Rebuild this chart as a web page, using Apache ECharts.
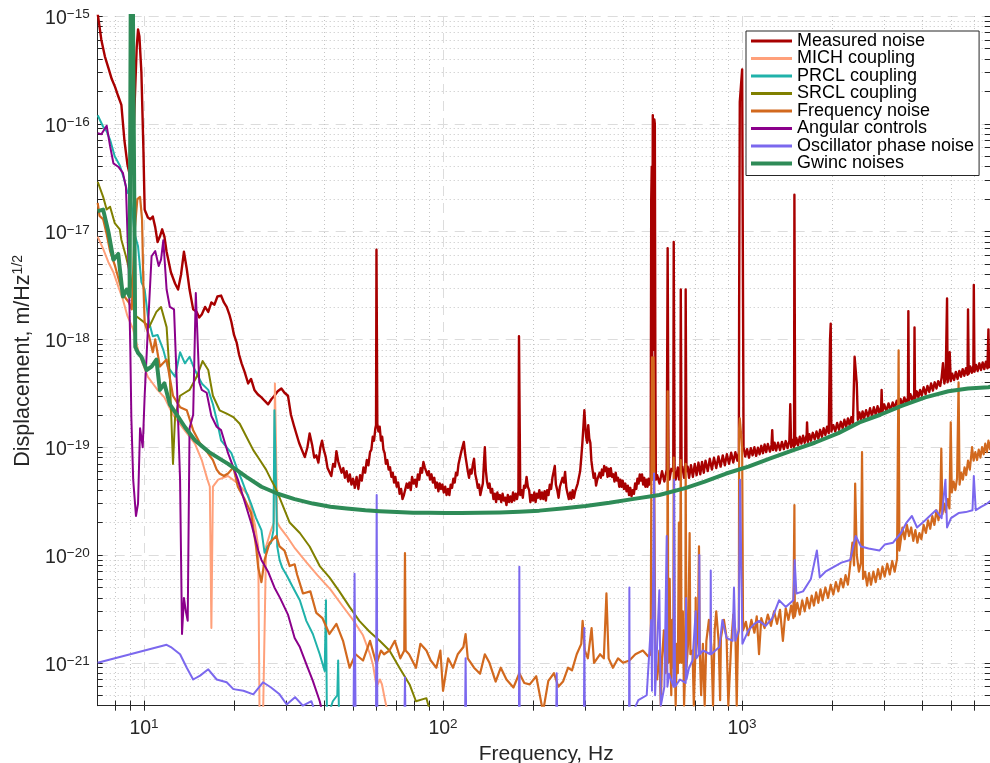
<!DOCTYPE html>
<html>
<head>
<meta charset="utf-8">
<title>Noise budget</title>
<script src="https://cdn.jsdelivr.net/npm/echarts@6/dist/echarts.min.js"></script>
<style>
  html, body { margin: 0; padding: 0; background: #fff; }
  #chart { width: 990px; height: 763px; }
</style>
</head>
<body>
<div id="chart"></div>
<script>
// axis range and tick labels
const xRange = [7, 7000];
const yRange = [4e-22, 1e-15];
const xMajor = [10, 100, 1000];
const yMajor = [1e-21, 1e-20, 1e-19, 1e-18, 1e-17, 1e-16, 1e-15];

// [frequency Hz, displacement m/Hz^1/2]
const measured = [[7.0,1.05e-15],[7.2,6e-16],[7.4,4.2e-16],[7.6,3.3e-16],[7.8,2.6e-16],[8.0,2.2e-16],[8.2,1.8e-16],[8.4,1.5e-16],[8.6,7e-17],[8.8,4.2e-17],[9.0,3.2e-17],[9.15,4e-17],[9.3,1.5e-16],[9.45,5e-16],[9.55,7.5e-16],[9.65,6.5e-16],[9.8,3e-16],[9.95,6e-17],[10.05,1.6e-17],[10.3,1.35e-17],[10.5,1.3e-17],[10.7,1.38e-17],[10.9,1.1e-17],[11.1,8e-18],[11.3,9e-18],[11.5,1.05e-17],[11.7,9e-18],[11.9,6.5e-18],[12.3,4.2e-18],[12.7,3.3e-18],[13.0,2.9e-18],[13.3,4e-18],[13.6,6.5e-18],[13.9,4.5e-18],[14.2,2.9e-18],[14.6,1.9e-18],[15.0,1.8e-18],[15.3,1.6e-18],[15.6,1.7e-18],[16.0,2e-18],[16.4,1.8e-18],[16.8,2.2e-18],[17.2,2.1e-18],[17.6,2.5e-18],[18.1,2.55e-18],[18.5,2.2e-18],[18.9,2.0e-18],[19.3,1.7e-18],[19.6,1.45e-18],[20.0,1.1e-18],[20.4,9.4e-19],[20.8,7.2e-19],[21.2,6e-19],[21.7,5e-19],[22.3,3.9e-19],[22.8,4.3e-19],[23.4,3.4e-19],[24.0,3.1e-19],[24.7,2.9e-19],[25.3,2.7e-19],[26.0,2.5e-19],[26.7,2.8e-19],[27.3,3.0e-19],[28.0,3.3e-19],[28.8,3.5e-19],[29.5,3.2e-19],[30.3,3.0e-19],[31.0,2.0e-19],[31.7,1.6e-19],[32.3,1.34e-19],[33.0,1.1e-19],[33.7,9.5e-20],[34.5,8.1e-20],[35.2,1.0e-19],[35.8,1.34e-19],[36.5,1.05e-19],[37.1,8e-20],[37.7,8.4e-20],[38.3,7.2e-20],[38.9,1.0e-19],[39.4,1.15e-19],[39.9,9.5e-20],[40.5,8.2e-20],[41.1,6.4e-20],[41.7,6.3e-20],[42.3,5.4e-20],[42.9,7e-20],[43.5,6.6e-20],[44.0,9.2e-20],[44.6,7.4e-20],[45.2,7.1e-20],[45.8,5.8e-20],[46.4,6.4e-20],[47.0,5.2e-20],[47.6,6e-20],[48.2,4.8e-20],[48.8,5.6e-20],[49.4,4.5e-20],[50.0,5.1e-20],[50.7,4.2e-20],[51.4,5.3e-20],[52.1,4.1e-20],[52.8,5.5e-20],[53.5,4.9e-20],[54.2,6.5e-20],[54.9,5.8e-20],[55.6,7.6e-20],[56.3,6.8e-20],[57.0,9e-20],[57.6,9.5e-20],[58.2,1.25e-19],[58.8,1.15e-19],[59.4,1.5e-19],[59.7,1.6e-19],[59.9,6.8e-18],[60.1,6.8e-18],[60.3,1.65e-19],[60.8,1.4e-19],[61.4,1.55e-19],[62.0,1.15e-19],[62.6,1.25e-19],[63.2,9.5e-20],[63.8,8.8e-20],[64.4,7e-20],[65.1,7.6e-20],[65.8,6.2e-20],[66.5,6.5e-20],[67.2,5.3e-20],[67.9,5.8e-20],[68.6,4.7e-20],[69.3,5.3e-20],[70.0,4.3e-20],[70.8,4.7e-20],[71.6,3.7e-20],[72.4,4.1e-20],[73.2,3.3e-20],[74.0,3.6e-20],[74.8,3.6e-20],[75.6,4.6e-20],[76.4,4.2e-20],[77.2,4.7e-20],[78.0,4.0e-20],[78.8,5.3e-20],[79.7,4.6e-20],[80.6,5.0e-20],[81.5,4.3e-20],[82.4,5.6e-20],[83.3,5.0e-20],[84.2,6.4e-20],[85.1,5.8e-20],[86.0,7.3e-20],[86.9,6.5e-20],[87.8,6.6e-20],[88.7,5.5e-20],[89.6,6e-20],[90.5,5e-20],[91.5,5.6e-20],[92.5,4.7e-20],[93.5,5.2e-20],[94.5,4.2e-20],[95.5,4.7e-20],[96.5,3.9e-20],[97.5,4.6e-20],[98.5,4.1e-20],[99.5,4.5e-20],[100.6,3.8e-20],[101.7,4.3e-20],[102.8,3.6e-20],[103.9,4.1e-20],[105,3.6e-20],[106.1,4.5e-20],[107.2,4.2e-20],[108.3,5.1e-20],[109.4,4.7e-20],[110.5,5.8e-20],[111.6,5.5e-20],[112.7,7e-20],[113.8,6.8e-20],[115,9e-20],[116.2,9.2e-20],[117.4,1.12e-19],[118.6,8.6e-20],[119.8,7.2e-20],[121,6e-20],[122.2,5.2e-20],[123.4,6.2e-20],[124.6,5.7e-20],[125.8,6.9e-20],[127,7.8e-20],[128.2,5.6e-20],[129.4,5e-20],[130.7,4.2e-20],[132,4.5e-20],[133.3,3.6e-20],[134.6,4.1e-20],[135.9,4.6e-20],[137,7e-20],[138,1.0e-19],[139,6.2e-20],[140.3,4.8e-20],[141.7,4.2e-20],[143.1,4.6e-20],[144.5,3.8e-20],[146,4.1e-20],[147.5,3.3e-20],[149,3.7e-20],[150.5,3.1e-20],[152,3.8e-20],[153.5,3.3e-20],[155,3.6e-20],[156.6,3.1e-20],[158.2,3.7e-20],[159.8,3.2e-20],[161.4,3.4e-20],[163,2.9e-20],[164.7,3.6e-20],[166.4,3.1e-20],[168.1,3.5e-20],[169.8,3.1e-20],[171.5,3.8e-20],[173.2,3.2e-20],[175,3.7e-20],[176.8,3.3e-20],[178.7,3.9e-20],[179.5,1.07e-18],[180.5,1.07e-18],[181.3,3.6e-20],[183.1,4e-20],[184.9,3.4e-20],[186.7,4.4e-20],[188.5,4.2e-20],[190.3,5.3e-20],[192.2,4.3e-20],[194.1,4e-20],[196,3.1e-20],[198,3.6e-20],[200,3.2e-20],[202,3.8e-20],[204,3.1e-20],[206,3.7e-20],[208,3.4e-20],[210,4e-20],[212,3.3e-20],[214.2,3.8e-20],[216.4,3.3e-20],[218.6,3.9e-20],[220.8,3.2e-20],[223,4e-20],[225.3,3.6e-20],[227.6,4.5e-20],[229.9,4.1e-20],[232.2,5.2e-20],[234.5,5e-20],[236.5,6.7e-20],[238.5,4.5e-20],[241,4e-20],[243.5,3.4e-20],[246,4.3e-20],[248.5,4.2e-20],[251,5.2e-20],[253.5,4.7e-20],[256,5.9e-20],[258.5,4.2e-20],[261,3.7e-20],[263.6,3.3e-20],[266.2,3.8e-20],[268.8,3.3e-20],[271.4,4e-20],[274,3.4e-20],[276.7,3.9e-20],[279.4,3.8e-20],[282.1,4.6e-20],[284.8,4.6e-20],[287.5,6e-20],[290,8e-20],[292.5,1.1e-19],[295,1.6e-19],[297,2.2e-19],[299,1.6e-19],[301,1.25e-19],[303.5,1.1e-19],[306,1.6e-19],[308.5,1.2e-19],[311,1.1e-19],[313.5,7.5e-20],[316,6.3e-20],[319,5.2e-20],[322,5.7e-20],[325,4.4e-20],[328,5e-20],[331,4.8e-20],[334,5.8e-20],[337,5.2e-20],[340,6.2e-20],[343,5.5e-20],[346,6.7e-20],[349,6e-20],[352,6.5e-20],[355,5.3e-20],[358,6.3e-20],[361,5.4e-20],[364,6.4e-20],[367.5,5.3e-20],[371,5.6e-20],[374.5,4.8e-20],[378,5.8e-20],[381.5,4.9e-20],[385,5.2e-20],[388.5,4.3e-20],[392,5e-20],[395.5,4.3e-20],[399,4.9e-20],[403,4.1e-20],[407,4.6e-20],[411,3.9e-20],[415,4.4e-20],[419,3.6e-20],[423,4.2e-20],[427,3.5e-20],[431,4e-20],[435,3.7e-20],[439,4.6e-20],[443,4.1e-20],[447,5.1e-20],[451,4.6e-20],[455,5.6e-20],[459,4.9e-20],[463,5.6e-20],[467,4.5e-20],[471,5.2e-20],[475,4.3e-20],[479,5e-20],[483,4.3e-20],[487,5.1e-20],[491,4.5e-20],[495,5.2e-20],[497,2e-17],[499,4e-17],[501,6e-19],[503,1.2e-16],[505,1.2e-16],[507,8e-19],[509,1.1e-16],[511,1.0e-16],[513,6e-19],[515,5e-20],[520,5.5e-20],[530,4.6e-20],[540,6e-20],[550,4.8e-20],[560,6.2e-20],[562,6e-20],[564,7e-18],[566,7e-18],[568,6e-20],[572,5e-20],[580,6.3e-20],[589,6e-20],[591,8e-18],[593,8e-18],[595,6e-20],[600,5e-20],[610,6.5e-20],[616,5e-20],[622,6e-20],[624,2.9e-18],[626,2.9e-18],[628,6e-20],[632,6.6e-20],[640,5.2e-20],[646,6e-20],[648,2.9e-18],[650,2.9e-18],[652,6e-20],[658,6.6e-20],[665,5.2e-20],[675,6.8e-20],[685,5.3e-20],[695,7e-20],[705,5.5e-20],[715,7.2e-20],[725,5.6e-20],[735,7.3e-20],[745,5.8e-20],[755,7.5e-20],[768,6e-20],[780,7.8e-20],[793,6.2e-20],[806,8e-20],[820,6.4e-20],[834,8.2e-20],[848,6.6e-20],[862,8.4e-20],[876,6.8e-20],[890,8.6e-20],[905,7e-20],[920,8.9e-20],[935,7.2e-20],[950,9e-20],[965,7.5e-20],[976,9e-20],[978,1.8e-18],[981,1.8e-18],[983,1.6e-16],[1001,3.2e-16],[1004,3.2e-16],[1008,2e-18],[1012,1e-19],[1025,8.2e-20],[1040,9.6e-20],[1055,8e-20],[1070,9.8e-20],[1085,8.4e-20],[1100,1e-19],[1115,8.3e-20],[1130,9.9e-20],[1145,8.6e-20],[1160,1.03e-19],[1175,8.8e-20],[1190,1.06e-19],[1205,9e-20],[1220,1.07e-19],[1240,9.1e-20],[1255,1.05e-19],[1262,1.44e-19],[1270,9.4e-20],[1285,1.1e-19],[1300,9.3e-20],[1320,1.1e-19],[1340,9.4e-20],[1360,1.12e-19],[1380,9.6e-20],[1400,1.14e-19],[1420,9.8e-20],[1440,1.15e-19],[1450,2.5e-19],[1460,1e-19],[1475,1.17e-19],[1493,1.0e-19],[1497,2.2e-17],[1502,2.2e-17],[1506,1.05e-19],[1520,1.22e-19],[1540,1.04e-19],[1560,1.25e-19],[1580,1.08e-19],[1600,1.28e-19],[1620,1.1e-19],[1645,1.3e-19],[1650,1.7e-19],[1660,1.12e-19],[1680,1.32e-19],[1700,1.15e-19],[1725,1.36e-19],[1750,1.18e-19],[1775,1.4e-19],[1800,1.2e-19],[1825,1.45e-19],[1850,1.25e-19],[1875,1.5e-19],[1900,1.3e-19],[1925,1.55e-19],[1950,1.35e-19],[1970,1e-18],[1980,1.4e-18],[1990,1.4e-19],[2020,1.6e-19],[2050,1.4e-19],[2080,1.68e-19],[2110,1.45e-19],[2140,1.72e-19],[2170,1.5e-19],[2200,1.8e-19],[2230,1.55e-19],[2260,1.85e-19],[2290,1.6e-19],[2320,1.9e-19],[2350,1.65e-19],[2380,6.9e-19],[2395,6.9e-19],[2420,3.9e-19],[2440,1.8e-19],[2470,2.1e-19],[2500,1.8e-19],[2530,2.15e-19],[2560,1.85e-19],[2600,2.2e-19],[2640,1.9e-19],[2680,2.3e-19],[2720,1.95e-19],[2760,2.35e-19],[2800,2e-19],[2840,2.4e-19],[2880,2.05e-19],[2920,2.4e-19],[2930,3.4e-19],[2945,2.1e-19],[2990,2.5e-19],[3040,2.15e-19],[3090,2.55e-19],[3140,2.2e-19],[3190,2.6e-19],[3240,2.3e-19],[3290,2.7e-19],[3340,2.35e-19],[3390,2.8e-19],[3440,2.45e-19],[3490,2.9e-19],[3540,2.55e-19],[3590,2.9e-19],[3600,1.83e-18],[3615,2.7e-19],[3660,3.1e-19],[3710,2.7e-19],[3765,3.1e-19],[3775,1.29e-18],[3790,2.8e-19],[3840,3.3e-19],[3890,2.9e-19],[3940,3.4e-19],[3990,3e-19],[4050,3.6e-19],[4110,3.1e-19],[4170,3.7e-19],[4230,3.25e-19],[4290,3.9e-19],[4350,3.35e-19],[4410,4e-19],[4470,3.5e-19],[4530,4.1e-19],[4600,3.7e-19],[4650,4.4e-19],[4700,6e-19],[4750,3.9e-19],[4800,4.5e-19],[4850,2.4e-18],[4870,4e-19],[4920,4.7e-19],[4950,7.6e-19],[4990,4.1e-19],[5050,4.8e-19],[5120,4.2e-19],[5190,5e-19],[5260,4.3e-19],[5330,5.1e-19],[5400,4.5e-19],[5470,5.3e-19],[5540,4.6e-19],[5610,5.4e-19],[5680,4.7e-19],[5700,1.9e-18],[5730,4.8e-19],[5800,5.6e-19],[5870,4.9e-19],[5940,5.7e-19],[5960,3.2e-18],[5990,5e-19],[6060,5.8e-19],[6140,5.1e-19],[6220,6e-19],[6300,5.2e-19],[6380,6.1e-19],[6460,5.3e-19],[6540,6.2e-19],[6620,5.4e-19],[6670,1.24e-18],[6700,5.5e-19],[6780,6.3e-19],[6860,5.6e-19],[6940,6.4e-19],[7000,5.8e-19]];

const mich = [[7.0,9e-18],[7.3,6.9e-18],[7.6,5.2e-18],[7.9,4.2e-18],[8.2,3.1e-18],[8.5,2.35e-18],[8.8,1.65e-18],[9.2,1.24e-18],[9.55,8e-19],[9.9,6e-19],[10.3,4.5e-19],[10.7,3.9e-19],[11.1,3.4e-19],[11.7,2.9e-19],[12.5,2e-19],[13.5,1.5e-19],[14.8,1.08e-19],[15.6,7.6e-20],[16.3,5e-20],[16.6,4.3e-20],[16.8,2.1e-21],[17.0,4.3e-20],[17.7,5e-20],[19.1,5.4e-20],[20.6,4.6e-20],[22.3,3.6e-20],[23.5,1.9e-20],[24.1,1.2e-20],[24.35,3e-22],[25.0,3e-22],[25.6,1.2e-20],[26.6,1.7e-20],[27.2,2e-20],[27.4,3.9e-19],[27.7,3.9e-19],[27.9,2e-20],[28.5,1.8e-20],[30,1.5e-20],[32,1.15e-20],[35,8.5e-21],[38,6.5e-21],[42,4.8e-21],[46,3.4e-21],[50,2.5e-21],[54,1.8e-21],[57,1.2e-21],[58.3,9.6e-22],[60,6e-22],[61.5,7e-22],[62.5,6.3e-22],[64,4.5e-22],[66,3e-22]];

const prcl = [[7.0,1.2e-16],[7.3,9.4e-17],[7.5,8.5e-17],[7.7,7.1e-17],[7.98,5e-17],[8.3,4.1e-17],[8.6,3e-17],[8.8,2.3e-17],[9.0,2.2e-17],[9.15,1.5e-17],[9.3,9.5e-18],[9.55,7.3e-18],[9.8,3.4e-18],[10.05,2.9e-18],[10.3,1.65e-18],[10.5,1.3e-18],[10.7,1.07e-18],[11.1,1.1e-18],[11.6,8e-19],[12.0,5.6e-19],[12.7,4.5e-19],[13.2,7.6e-19],[13.7,6e-19],[14.2,6.9e-19],[14.8,5.2e-19],[15.6,3.9e-19],[16.4,3.4e-19],[17.0,2.5e-19],[17.5,1.8e-19],[18.1,1.16e-19],[19.6,8.8e-20],[20.4,6.5e-20],[21.2,5e-20],[22.0,3.8e-20],[22.8,3e-20],[23.7,2.2e-20],[24.7,1.7e-20],[25.3,1.05e-20],[25.9,1.2e-20],[26.6,1.3e-20],[27.1,1.7e-20],[27.3,2.2e-19],[27.6,2.2e-19],[27.9,1.2e-20],[28.4,9e-21],[29.0,7.6e-21],[30.0,6.5e-21],[31.5,5e-21],[33.2,3.8e-21],[34.9,2.45e-21],[36.7,1.85e-21],[38.7,1.2e-21],[40.2,8.4e-22],[40.6,3.8e-21],[40.9,3e-22],[41.5,3e-22],[42.8,4.4e-22],[44.3,5e-22],[44.6,1.05e-21],[44.9,3e-22],[46,3e-22]];

const srcl = [[7.0,2.9e-17],[7.3,2.1e-17],[7.5,1.6e-17],[7.7,1.7e-17],[7.98,1.2e-17],[8.3,1.05e-17],[8.4,8.4e-18],[8.7,5.9e-18],[9.0,4e-18],[9.4,1.65e-18],[10.05,1.43e-18],[10.4,1.3e-18],[11.0,1.8e-18],[11.4,2e-18],[11.9,1.3e-18],[12.2,4.5e-19],[12.5,7e-20],[12.7,1.9e-19],[13.2,3e-19],[13.7,3.2e-19],[14.2,3.4e-19],[15.0,4.5e-19],[15.7,6.3e-19],[16.4,5.2e-19],[17.0,3e-19],[17.9,2.2e-19],[18.9,2.05e-19],[19.9,1.9e-19],[20.9,1.65e-19],[22.0,1.25e-19],[23.2,9.4e-20],[24.4,7.6e-20],[25.6,6.2e-20],[26.6,5e-20],[27.5,4.2e-20],[28.4,3.4e-20],[30.7,2e-20],[33.2,1.6e-20],[35.8,1.2e-20],[38.7,7.9e-21],[41.7,6.2e-21],[45,4.6e-21],[48.7,3.3e-21],[52.5,2.45e-21],[56.7,1.95e-21],[61.4,1.6e-21],[66.2,1.3e-21],[71.5,9e-22],[77.3,6.3e-22],[81.2,4.4e-22],[88,4.7e-22],[92,3e-22]];

const freqNoise = [[7.0,1.85e-17],[7.1,1.4e-17],[7.3,1.3e-17],[7.5,9.5e-18],[7.7,6.6e-18],[8.0,4.8e-18],[8.3,3.3e-18],[8.6,2.5e-18],[8.9,2.2e-18],[9.1,1.9e-18],[9.3,1e-17],[9.5,2e-17],[9.7,2.1e-17],[9.85,1.3e-17],[9.95,3.3e-18],[10.05,1.43e-18],[10.4,1.07e-18],[10.7,7.6e-19],[10.9,1e-18],[11.3,5.6e-19],[11.9,6.5e-19],[12.5,3e-19],[13.2,2.35e-19],[13.9,2.2e-19],[14.6,1.44e-19],[15.4,1.08e-19],[16.1,9.4e-20],[17.0,7.6e-20],[17.5,6.2e-20],[17.9,5.7e-20],[18.5,5.4e-20],[19.1,5.7e-20],[19.9,6.5e-20],[20.6,4.3e-20],[21.7,3.3e-20],[22.8,2.45e-20],[23.7,1.2e-20],[24.1,7.6e-21],[24.7,5.6e-21],[25.3,9e-21],[26.3,1.3e-20],[27.7,1.5e-20],[28.4,1.2e-20],[29.5,1.1e-20],[30.7,7.9e-21],[31.9,8.2e-21],[32.5,6.6e-21],[34,4.4e-21],[36,4.6e-21],[37.7,2.9e-21],[39.5,2.6e-21],[41.7,1.85e-21],[44,2.3e-21],[46.3,1.6e-21],[48.7,9e-22],[51,1.2e-21],[54,1.05e-21],[57,1.6e-21],[59.9,9.7e-22],[62,1.3e-21],[63.5,1.2e-21],[66.2,1.3e-21],[69,1.6e-21],[72,1.1e-21],[74.2,1.3e-21],[74.6,1.04e-20],[75.0,1.3e-21],[77,1.2e-21],[81.2,9e-22],[84,1.5e-21],[88,1.3e-21],[91,1.05e-21],[95,9e-22],[98,1.3e-21],[100,5.5e-22],[104,1.1e-21],[108,9e-22],[112,1.2e-21],[117,1.4e-21],[119,1.85e-21],[121,1.1e-21],[127,9e-22],[133,7.9e-22],[138,1.2e-21],[143,1e-21],[150,6.7e-22],[156,9e-22],[163,7e-22],[172,5.9e-22],[180,8e-22],[187,6.5e-22],[195,6.3e-22],[205,7.5e-22],[216,3.5e-22],[225,6.8e-22],[235,8e-22],[243,6e-22],[252,6.7e-22],[262,9e-22],[270,8.5e-22],[280,1.2e-21],[290,1.5e-21],[293,2.45e-21],[298,1.3e-21],[305,1.1e-21],[314,2.1e-21],[320,1e-21],[335,1.2e-21],[345,1.1e-21],[352,4.4e-21],[358,1.1e-21],[370,9e-22],[385,1.1e-21],[400,1.0e-21],[420,1.05e-21],[440,1.2e-21],[466,1.3e-21],[485,1.15e-21],[495,1.2e-21],[497,3e-20],[500,6.8e-19],[503,5e-20],[506,6.8e-19],[510,6.8e-19],[513,1e-21],[520,7e-22],[529,1.3e-21],[535,4e-22],[540,1.1e-21],[548,2e-21],[555,8e-22],[562,1e-21],[564,3.3e-19],[567,1e-21],[573,6e-21],[576,1.2e-21],[580,5e-22],[584,2.5e-21],[589,9e-22],[591,8e-20],[595,1.2e-21],[600,4e-22],[605,1.5e-21],[610,8e-22],[615,2e-20],[618,1e-21],[622,1e-21],[624,7.6e-20],[628,1e-21],[634,3e-21],[640,4e-22],[646,9e-22],[648,7e-20],[652,9e-22],[660,1.5e-21],[668,1.6e-20],[672,1.2e-21],[683,1.3e-21],[690,4e-22],[698,1.2e-21],[700,4e-21],[702,1.2e-21],[712,2e-21],[718,1.2e-20],[722,1.3e-21],[730,5e-22],[740,1.5e-21],[750,4e-22],[760,1.6e-21],[775,2.5e-21],[790,1.4e-21],[800,4e-22],[810,2e-21],[820,3e-21],[835,1.6e-21],[845,4.5e-22],[850,1.7e-21],[870,2.5e-21],[888,1.7e-21],[900,4e-22],[920,1.5e-21],[935,2.8e-21],[950,2e-21],[960,4e-22],[970,1.8e-21],[976,2e-21],[978,1.5e-19],[983,1.85e-19],[1001,1e-19],[1008,2e-21],[1030,2.4e-21],[1050,1.8e-21],[1075,2.5e-21],[1100,1.9e-21],[1120,2.7e-21],[1140,1.2e-21],[1160,2.6e-21],[1190,2.1e-21],[1220,2.8e-21],[1250,2.2e-21],[1280,3e-21],[1310,2.3e-21],[1340,3.1e-21],[1370,1.6e-21],[1400,3.2e-21],[1430,2.5e-21],[1460,3.4e-21],[1485,2.6e-21],[1497,2.9e-20],[1502,2.7e-21],[1530,3.6e-21],[1560,2.8e-21],[1590,3.8e-21],[1620,3e-21],[1650,4e-21],[1680,3.2e-21],[1710,4.2e-21],[1740,3.4e-21],[1770,4.5e-21],[1800,3.6e-21],[1830,4.8e-21],[1860,3.8e-21],[1900,5e-21],[1940,4e-21],[1980,5.3e-21],[2020,4.3e-21],[2060,5.6e-21],[2100,4.6e-21],[2140,6e-21],[2180,5e-21],[2220,6.5e-21],[2260,5.3e-21],[2300,8e-21],[2340,1.3e-20],[2370,8e-21],[2390,4.6e-20],[2420,1e-20],[2460,7e-21],[2500,8.5e-21],[2520,9e-20],[2540,6e-21],[2580,7e-21],[2620,5.2e-21],[2660,6.8e-21],[2700,5.3e-21],[2750,7e-21],[2800,5.6e-21],[2850,7.4e-21],[2900,6e-21],[2950,7.8e-21],[3000,6.3e-21],[3060,8.3e-21],[3120,6.6e-21],[3180,8.8e-21],[3240,7e-21],[3300,9.2e-21],[3340,7.9e-19],[3360,1.1e-20],[3400,1.4e-20],[3440,1.8e-20],[3500,1.4e-20],[3560,1.9e-20],[3620,1.5e-20],[3680,1.8e-20],[3740,1.35e-20],[3800,1.7e-20],[3860,1.3e-20],[3920,1.6e-20],[3980,1.4e-20],[4050,1.9e-20],[4120,1.6e-20],[4190,2.1e-20],[4260,1.75e-20],[4330,2.3e-20],[4400,1.9e-20],[4470,2.6e-20],[4540,2.1e-20],[4600,2.7e-20],[4640,9.7e-20],[4680,2.4e-20],[4740,3e-20],[4800,2.5e-20],[4870,3.3e-20],[4940,2.7e-20],[4990,1.7e-19],[5030,3.8e-20],[5100,4.8e-20],[5170,4e-20],[5240,5.2e-20],[5300,4e-19],[5340,4.5e-20],[5410,5.8e-20],[5480,5e-20],[5550,6.5e-20],[5620,5.5e-20],[5700,7.5e-20],[5780,6.2e-20],[5880,1.0e-19],[5950,7.5e-20],[6030,9e-20],[6110,7.6e-20],[6190,9.5e-20],[6270,8e-20],[6350,1e-19],[6430,8.6e-20],[6510,1.08e-19],[6590,9e-20],[6670,1.15e-19],[6750,9.6e-20],[6830,1.2e-19],[6910,1e-19],[7000,1.22e-19]];

const angular = [[7.0,8.2e-17],[7.2,8e-17],[7.5,9.6e-17],[7.7,6.2e-17],[7.9,4.3e-17],[8.2,4e-17],[8.5,3.5e-17],[8.7,2.6e-17],[8.8,1e-17],[8.9,3.9e-18],[9.0,8e-19],[9.07,1.9e-19],[9.2,5e-20],[9.4,2.3e-20],[9.55,3e-20],[9.7,1.5e-19],[9.9,1e-19],[10.05,3e-19],[10.3,1.24e-18],[10.6,5.9e-18],[10.9,6.6e-18],[11.2,4.8e-18],[11.4,5.5e-18],[11.6,8.3e-18],[11.9,2.9e-18],[12.2,2e-18],[12.6,1.9e-18],[12.9,3.4e-19],[13.2,5e-20],[13.4,1.85e-21],[13.6,4e-21],[13.8,3e-21],[14.0,2.45e-21],[14.2,1.5e-19],[14.6,2e-19],[14.9,2.7e-18],[15.1,2.7e-18],[15.3,4e-19],[15.6,3.4e-19],[16.2,3.2e-19],[16.8,1.95e-19],[17.5,1.55e-19],[18.1,1.44e-19],[19.1,8.8e-20],[20.6,5e-20],[21.8,3e-20],[22.8,2e-20],[24.1,1.1e-20],[24.7,9e-21],[26,7e-21],[27.3,5e-21],[28.5,4e-21],[30.3,2.8e-21],[31.9,1.7e-21],[33.2,1.4e-21],[34.9,9.7e-22],[36.7,6.8e-22],[38.7,4.4e-22],[40,3e-22]];

const oscPhase = [[7.0,1e-21],[11.9,1.47e-21],[12.3,1.4e-21],[13.2,1.2e-21],[13.9,9e-22],[14.6,7e-22],[15.4,7.6e-22],[16.4,8.7e-22],[17.5,7e-22],[18.9,6.6e-22],[19.9,5.7e-22],[21.5,5.5e-22],[23.2,5.1e-22],[25.0,6.6e-22],[26.6,5.9e-22],[28.4,5.1e-22],[30.0,4.1e-22],[32.0,4.8e-22],[34,4e-22],[36.3,4.4e-22],[38,3e-22],[50.2,3e-22],[50.6,6.7e-21],[51.0,3e-22],[59.7,3e-22],[60.0,3.6e-20],[60.3,3e-22],[74.3,3e-22],[74.6,7.3e-22],[74.9,3e-22],[118.5,3e-22],[119,1.1e-21],[119.5,3e-22],[179.5,3e-22],[180,7.8e-21],[180.5,3e-22],[239,3e-22],[240,8e-22],[241,3e-22],[296,3e-22],[297,2.1e-21],[298,3e-22],[419,3e-22],[420,5e-21],[421,3e-22],[450,4.5e-22],[480,5e-22],[497,2.5e-21],[500,5.5e-22],[508,5.7e-20],[512,5e-22],[529,4.7e-21],[535,4e-22],[550,6e-22],[560,1.5e-20],[563,6e-22],[570,7.9e-22],[590,6e-22],[593,5e-20],[597,6e-22],[620,7e-22],[648,6.5e-22],[650,4e-21],[652,7e-22],[665,9e-22],[683,1.05e-21],[700,3e-21],[703,1.1e-21],[718,1.2e-21],[720,1e-20],[722,1.2e-21],[740,1.3e-21],[784,1.2e-21],[786,7.2e-21],[788,1.2e-21],[840,1.4e-21],[860,2.5e-21],[888,1.7e-21],[930,1.6e-21],[940,5e-21],[950,1.6e-21],[975,2e-21],[985,5e-20],[1003,1.5e-21],[1050,2e-21],[1100,2.3e-21],[1140,2.45e-21],[1200,2.2e-21],[1262,2.6e-21],[1330,3.8e-21],[1400,3.3e-21],[1485,3.8e-21],[1500,9e-21],[1520,4.4e-21],[1600,4.6e-21],[1700,6e-21],[1780,1.1e-20],[1820,6.2e-21],[1900,7e-21],[2050,7.9e-21],[2150,8.5e-21],[2300,9e-21],[2400,1.5e-20],[2500,1.2e-20],[2650,1.15e-20],[2880,1.1e-20],[3000,1.25e-20],[3200,1.3e-20],[3400,1.6e-20],[3550,2e-20],[3700,2.3e-20],[3850,1.8e-20],[4100,2.1e-20],[4450,2.6e-20],[4650,2.2e-20],[4790,5e-20],[4850,1.8e-20],[5000,2.2e-20],[5300,2.45e-20],[5600,2.5e-20],[5900,2.6e-20],[5960,5.4e-20],[6050,2.6e-20],[6300,2.8e-20],[6600,3e-20],[6800,3.2e-20],[7000,3.3e-20]];

const gwinc = [[7.0,1.55e-17],[7.3,1.6e-17],[7.6,1.0e-17],[7.9,5.5e-18],[8.2,6.2e-18],[8.5,2.5e-18],[8.75,2.9e-18],[8.95,2.5e-18],[9.08,1e-13],[9.18,1e-13],[9.35,8.5e-19],[9.55,7.5e-19],[9.8,6.9e-19],[10.2,5.2e-19],[10.6,5.6e-19],[11.0,6.5e-19],[11.3,3.4e-19],[11.7,3.9e-19],[12.2,2.5e-19],[12.8,2.05e-19],[13.7,1.54e-19],[14.8,1.16e-19],[16.5,9e-20],[19.1,7e-20],[22,5.3e-20],[24.7,4.3e-20],[28,3.7e-20],[31.9,3.3e-20],[36.7,3.0e-20],[42,2.8e-20],[47.6,2.7e-20],[55,2.6e-20],[61.4,2.55e-20],[70,2.5e-20],[79.4,2.47e-20],[90,2.46e-20],[102,2.45e-20],[115,2.45e-20],[133,2.46e-20],[155,2.48e-20],[180,2.52e-20],[210,2.58e-20],[250,2.7e-20],[300,2.85e-20],[360,3.05e-20],[430,3.3e-20],[529,3.6e-20],[650,4.2e-20],[750,4.8e-20],[885,5.7e-20],[1050,6.6e-20],[1250,7.9e-20],[1485,9.4e-20],[1750,1.1e-19],[2100,1.35e-19],[2470,1.7e-19],[2900,2.0e-19],[3400,2.4e-19],[4100,2.9e-19],[4900,3.3e-19],[5700,3.5e-19],[6670,3.6e-19],[7000,3.7e-19]];

const seriesNames = ['Measured noise', 'MICH coupling', 'PRCL coupling', 'SRCL coupling',
  'Frequency noise', 'Angular controls', 'Oscillator phase noise', 'Gwinc noises'];
const seriesData = [measured, mich, prcl, srcl, freqNoise, angular, oscPhase, gwinc];
const seriesColors = ['#A80000', '#FFA07A', '#20B2AA', '#808000', '#D2691E', '#8B008B', '#7B68EE', '#2E8B57'];
const seriesWidths = [2.4, 2, 2, 2, 2.2, 2, 2, 4];

// minor tick positions of the log axes (2..9 in each decade)
const minorMult = [2, 3, 4, 5, 6, 7, 8, 9];
const xMinor = [];
[1, 10, 100, 1000].forEach(d => minorMult.forEach(m => {
  const v = m * d;
  if (v > xRange[0] && v < xRange[1]) xMinor.push(v);
}));
const yMinor = [];
[1e-22, 1e-21, 1e-20, 1e-19, 1e-18, 1e-17, 1e-16].forEach(d => minorMult.forEach(m => {
  const v = m * d;
  if (v >= yRange[0] && v < yRange[1]) yMinor.push(v);
}));

const FONT = '"Liberation Sans", Arial, Helvetica, sans-serif';
const INK = '#262626';
const rich = {
  b: { fontSize: 19.5, lineHeight: 22, color: INK, fontFamily: FONT },
  e: { fontSize: 13.5, lineHeight: 10, verticalAlign: 'top', color: INK, fontFamily: FONT }
};
const powLabel = v => '{b|10}{e|' + String(Math.round(Math.log10(v))).replace('-', '\u2212') + '}';

const majorGrid = { show: true, lineStyle: { color: '#dcdcdc', width: 1, type: [10, 7] } };
const minorGrid = { show: true, lineStyle: { color: '#c4c4c4', width: 1, type: [1, 3] } };

const chart = echarts.init(document.getElementById('chart'));

const option = {
  animation: false,
  backgroundColor: '#fff',
  grid: { left: 97.7, top: 16, right: -4.7, bottom: 57.3, containLabel: false, outerBoundsMode: 'none' },
  legend: {
    orient: 'vertical',
    left: 746,
    top: 31,
    padding: [1, 5, 3, 5],
    itemWidth: 41,
    itemHeight: 17,
    itemGap: -0.5,
    selectedMode: false,
    symbolKeepAspect: true,
    backgroundColor: '#fff',
    borderColor: INK,
    borderWidth: 1,
    textStyle: { fontSize: 18, lineHeight: 17, color: '#000', fontFamily: FONT },
    data: seriesNames.map((n, i) => ({
      name: n,
      icon: i === 7 ? 'path://M0,0H41V4H0Z' : 'path://M0,0H41V3H0Z'
    }))
  },
  xAxis: [
    {
      type: 'log', min: xRange[0], max: xRange[1], position: 'bottom',
      name: 'Frequency, Hz', nameLocation: 'middle', nameGap: 27,
      nameTextStyle: { fontSize: 21, color: INK, fontFamily: FONT },
      axisLine: { show: true, lineStyle: { color: INK, width: 1 } },
      axisTick: { show: true, inside: true, length: 5, customValues: xMajor, lineStyle: { color: INK } },
      axisLabel: { customValues: xMajor, margin: 12, formatter: powLabel, rich: rich },
      splitLine: majorGrid
    },
    {
      type: 'log', min: xRange[0], max: xRange[1], position: 'bottom',
      axisLine: { show: false },
      axisTick: { show: true, inside: true, length: 5, customValues: xMinor, lineStyle: { color: INK } },
      axisLabel: { show: false },
      splitLine: minorGrid
    },
    {
      type: 'log', min: xRange[0], max: xRange[1], position: 'top',
      axisLine: { show: true, lineStyle: { color: INK, width: 1 } },
      axisTick: { show: true, inside: true, length: 5, customValues: xMajor.concat(xMinor), lineStyle: { color: INK } },
      axisLabel: { show: false },
      splitLine: { show: false }
    }
  ],
  yAxis: [
    {
      type: 'log', min: yRange[0], max: yRange[1], position: 'left',
      name: '{n|Displacement, m/Hz}{s|1/2}', nameLocation: 'middle', nameGap: 52,
      nameTextStyle: {
        rich: {
          n: { fontSize: 21.5, lineHeight: 25, color: INK, fontFamily: FONT },
          s: { fontSize: 14, lineHeight: 12, verticalAlign: 'top', color: INK, fontFamily: FONT }
        }
      },
      axisLine: { show: true, lineStyle: { color: INK, width: 1 } },
      axisTick: { show: true, inside: true, length: 5, customValues: yMajor, lineStyle: { color: INK } },
      axisLabel: { customValues: yMajor, margin: 8, padding: [5, 0, 0, 0], formatter: powLabel, rich: rich },
      splitLine: majorGrid
    },
    {
      type: 'log', min: yRange[0], max: yRange[1], position: 'left',
      axisLine: { show: false },
      axisTick: { show: true, inside: true, length: 5, customValues: yMinor, lineStyle: { color: INK } },
      axisLabel: { show: false },
      splitLine: minorGrid
    },
    {
      type: 'log', min: yRange[0], max: yRange[1], position: 'right',
      axisLine: { show: true, lineStyle: { color: INK, width: 1 } },
      axisTick: { show: true, inside: true, length: 10, customValues: yMajor.concat(yMinor), lineStyle: { color: INK } },
      axisLabel: { show: false },
      splitLine: { show: false }
    }
  ],
  series: seriesNames.map((name, i) => ({
    name: name,
    type: 'line',
    xAxisIndex: 0,
    yAxisIndex: 0,
    data: seriesData[i],
    showSymbol: false,
    symbol: 'none',
    clip: true,
    color: seriesColors[i],
    lineStyle: { color: seriesColors[i], width: seriesWidths[i], join: 'round' },
    emphasis: { disabled: true },
    z: 2 + i
  }))
};

chart.setOption(option);
</script>
</body>
</html>
